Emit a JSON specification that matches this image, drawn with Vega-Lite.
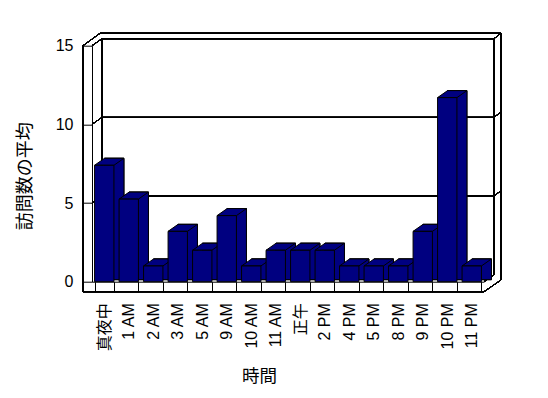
{
  "$schema": "https://vega.github.io/schema/vega-lite/v6.json",
  "width": 392,
  "height": 236,
  "autosize": {"type": "none"},
  "padding": {"left": 92, "top": 45.7, "right": 64, "bottom": 116.3},
  "background": "white",
  "config": {
    "view": {"stroke": null},
    "axis": {
      "domainColor": "black", "tickColor": "black", "labelColor": "black", "titleColor": "black",
      "labelFont": "Liberation Sans, Noto Sans CJK JP", "labelFontSize": 16, "labelFontWeight": "normal",
      "titleFont": "Noto Sans CJK JP", "titleFontWeight": "normal", "grid": false
    },
    "rule": {"color": "black", "strokeWidth": 1}
  },
  "data": {"values": [
    {"t": "真夜中", "v": 7.4},
    {"t": "1 AM", "v": 5.25},
    {"t": "2 AM", "v": 1},
    {"t": "3 AM", "v": 3.2},
    {"t": "5 AM", "v": 2},
    {"t": "9 AM", "v": 4.2},
    {"t": "10 AM", "v": 1},
    {"t": "11 AM", "v": 2},
    {"t": "正午", "v": 2},
    {"t": "2 PM", "v": 2},
    {"t": "4 PM", "v": 1},
    {"t": "5 PM", "v": 1},
    {"t": "8 PM", "v": 1},
    {"t": "9 PM", "v": 3.2},
    {"t": "10 PM", "v": 11.7},
    {"t": "11 PM", "v": 1}
  ]},
  "layer": [
    {
      "mark": {"type": "bar", "fill": "#000080", "stroke": "black", "strokeWidth": 1, "xOffset": 10, "x2Offset": 10, "yOffset": -7, "y2Offset": -2},
      "encoding": {
        "x": {"field": "t", "type": "nominal", "sort": null,
          "scale": {"domain": ["真夜中", "1 AM", "2 AM", "3 AM", "5 AM", "9 AM", "10 AM", "11 AM", "正午", "2 PM", "4 PM", "5 PM", "8 PM", "9 PM", "10 PM", "11 PM"], "paddingInner": 0.21, "paddingOuter": 0.105},
          "axis": {"title": "時間", "titleFontSize": 17.5, "titleX": 167, "titleY": 95, "titleAlign": "center", "titleBaseline": "middle", "titleAngle": 0,
            "labelAngle": 270, "labelAlign": "right", "labelBaseline": "middle", "labelPadding": 11, "labelFontSize": 16, "tickSize": 10, "tickBand": "extent"}},
        "y": {"field": "v", "type": "quantitative",
          "scale": {"domain": [0, 15], "nice": false, "zero": true},
          "axis": {"title": "訪問数の平均", "titleFontSize": 18, "titleAngle": 270, "titleX": -67, "titleY": 130, "titleAlign": "center", "titleBaseline": "middle",
            "values": [0, 5, 10, 15], "tickSize": 9, "labelPadding": 10, "labelFontSize": 16}},
        "y2": {"datum": 0}
      }
    },
    {"mark": {"type": "rule", "xOffset": 10, "x2Offset": 10, "yOffset": -7},
     "encoding": {"x": {"datum": "真夜中", "bandPosition": -0.133}, "x2": {"datum": "11 PM", "bandPosition": 1.133}, "y": {"datum": 5}}},
    {"mark": {"type": "rule", "xOffset": 10, "x2Offset": 10, "yOffset": -7},
     "encoding": {"x": {"datum": "真夜中", "bandPosition": -0.133}, "x2": {"datum": "11 PM", "bandPosition": 1.133}, "y": {"datum": 10}}},
    {"mark": {"type": "rule", "xOffset": 10, "x2Offset": 10, "yOffset": -7},
     "encoding": {"x": {"datum": "真夜中", "bandPosition": -0.133}, "x2": {"datum": "11 PM", "bandPosition": 1.133}, "y": {"datum": 15}}},
    {"mark": {"type": "rule", "xOffset": 8, "x2Offset": 17, "yOffset": -12.4},
     "encoding": {"x": {"datum": "真夜中", "bandPosition": -0.133}, "x2": {"datum": "11 PM", "bandPosition": 1.133}, "y": {"datum": 15}}},
    {"mark": {"type": "rule", "xOffset": 10, "yOffset": -7, "y2Offset": -7},
     "encoding": {"x": {"datum": "真夜中", "bandPosition": -0.133}, "y": {"datum": 0}, "y2": {"datum": 15}}},
    {"mark": {"type": "rule", "xOffset": 10, "yOffset": -7, "y2Offset": -7},
     "encoding": {"x": {"datum": "11 PM", "bandPosition": 1.133}, "y": {"datum": 0}, "y2": {"datum": 15}}},
    {"mark": {"type": "rule", "xOffset": 17, "yOffset": -1.7, "y2Offset": -12.4},
     "encoding": {"x": {"datum": "11 PM", "bandPosition": 1.133}, "y": {"datum": 0}, "y2": {"datum": 15}}},
    {"mark": {"type": "rule", "xOffset": -9, "yOffset": 10, "y2Offset": 0},
     "encoding": {"x": {"datum": "真夜中", "bandPosition": -0.133}, "y": {"datum": 0}, "y2": {"datum": 15}}},
    {"mark": {"type": "rule", "xOffset": -9, "x2Offset": 8, "y2Offset": -12.4},
     "encoding": {"x": {"datum": "真夜中", "bandPosition": -0.133}, "x2": {"datum": "真夜中", "bandPosition": -0.133}, "y": {"datum": 15}, "y2": {"datum": 15}}},
    {"mark": {"type": "rule", "x2Offset": 10, "y2Offset": -7},
     "encoding": {"x": {"datum": "真夜中", "bandPosition": -0.133}, "x2": {"datum": "真夜中", "bandPosition": -0.133}, "y": {"datum": 15}, "y2": {"datum": 15}}},
    {"mark": {"type": "rule", "x2Offset": 10, "y2Offset": -7},
     "encoding": {"x": {"datum": "真夜中", "bandPosition": -0.133}, "x2": {"datum": "真夜中", "bandPosition": -0.133}, "y": {"datum": 10}, "y2": {"datum": 10}}},
    {"mark": {"type": "rule", "x2Offset": 10, "y2Offset": -7},
     "encoding": {"x": {"datum": "真夜中", "bandPosition": -0.133}, "x2": {"datum": "真夜中", "bandPosition": -0.133}, "y": {"datum": 5}, "y2": {"datum": 5}}},
    {"mark": {"type": "rule", "xOffset": 10, "x2Offset": 17, "yOffset": -7, "y2Offset": -12.4},
     "encoding": {"x": {"datum": "11 PM", "bandPosition": 1.133}, "x2": {"datum": "11 PM", "bandPosition": 1.133}, "y": {"datum": 15}, "y2": {"datum": 15}}},
    {"mark": {"type": "rule", "xOffset": 10, "x2Offset": 17, "yOffset": -7, "y2Offset": -12.4},
     "encoding": {"x": {"datum": "11 PM", "bandPosition": 1.133}, "x2": {"datum": "11 PM", "bandPosition": 1.133}, "y": {"datum": 10}, "y2": {"datum": 10}}},
    {"mark": {"type": "rule", "xOffset": 10, "x2Offset": 17, "yOffset": -7, "y2Offset": -12.4},
     "encoding": {"x": {"datum": "11 PM", "bandPosition": 1.133}, "x2": {"datum": "11 PM", "bandPosition": 1.133}, "y": {"datum": 5}, "y2": {"datum": 5}}},
    {"mark": {"type": "rule", "xOffset": -9, "yOffset": 10},
     "encoding": {"x": {"datum": "真夜中", "bandPosition": -0.133}, "x2": {"datum": "11 PM", "bandPosition": 1.133}, "y": {"datum": 0}}},
    {"mark": {"type": "rule", "x2Offset": 17, "yOffset": 10, "y2Offset": -1.7},
     "encoding": {"x": {"datum": "11 PM", "bandPosition": 1.133}, "x2": {"datum": "11 PM", "bandPosition": 1.133}, "y": {"datum": 0}, "y2": {"datum": 0}}},
    {"mark": {"type": "rule", "x2Offset": 10, "y2Offset": -7},
     "encoding": {"x": {"datum": "11 PM", "bandPosition": 1.133}, "x2": {"datum": "11 PM", "bandPosition": 1.133}, "y": {"datum": 0}, "y2": {"datum": 0}}},
    {
      "mark": {"type": "bar", "fill": "#000080", "stroke": "black", "strokeWidth": 1, "xOffset": 10, "x2Offset": 10, "yOffset": -7, "y2Offset": -2},
      "encoding": {"x": {"field": "t", "type": "nominal", "sort": null}, "y": {"field": "v", "type": "quantitative"}, "y2": {"datum": 0}}
    },
    {
      "mark": {"type": "point", "shape": "M-0.968,0L0.968,0L1.968,-0.7L0.032,-0.7Z", "size": 400, "filled": true, "fill": "#000080", "stroke": "black", "strokeWidth": 1, "opacity": 1},
      "encoding": {"x": {"field": "t", "type": "nominal", "sort": null}, "y": {"field": "v", "type": "quantitative"}}
    },
    {
      "mark": {"type": "bar", "fill": "#000080", "stroke": "black", "strokeWidth": 1},
      "encoding": {"x": {"field": "t", "type": "nominal", "sort": null}, "y": {"field": "v", "type": "quantitative"}}
    }
  ]
}
